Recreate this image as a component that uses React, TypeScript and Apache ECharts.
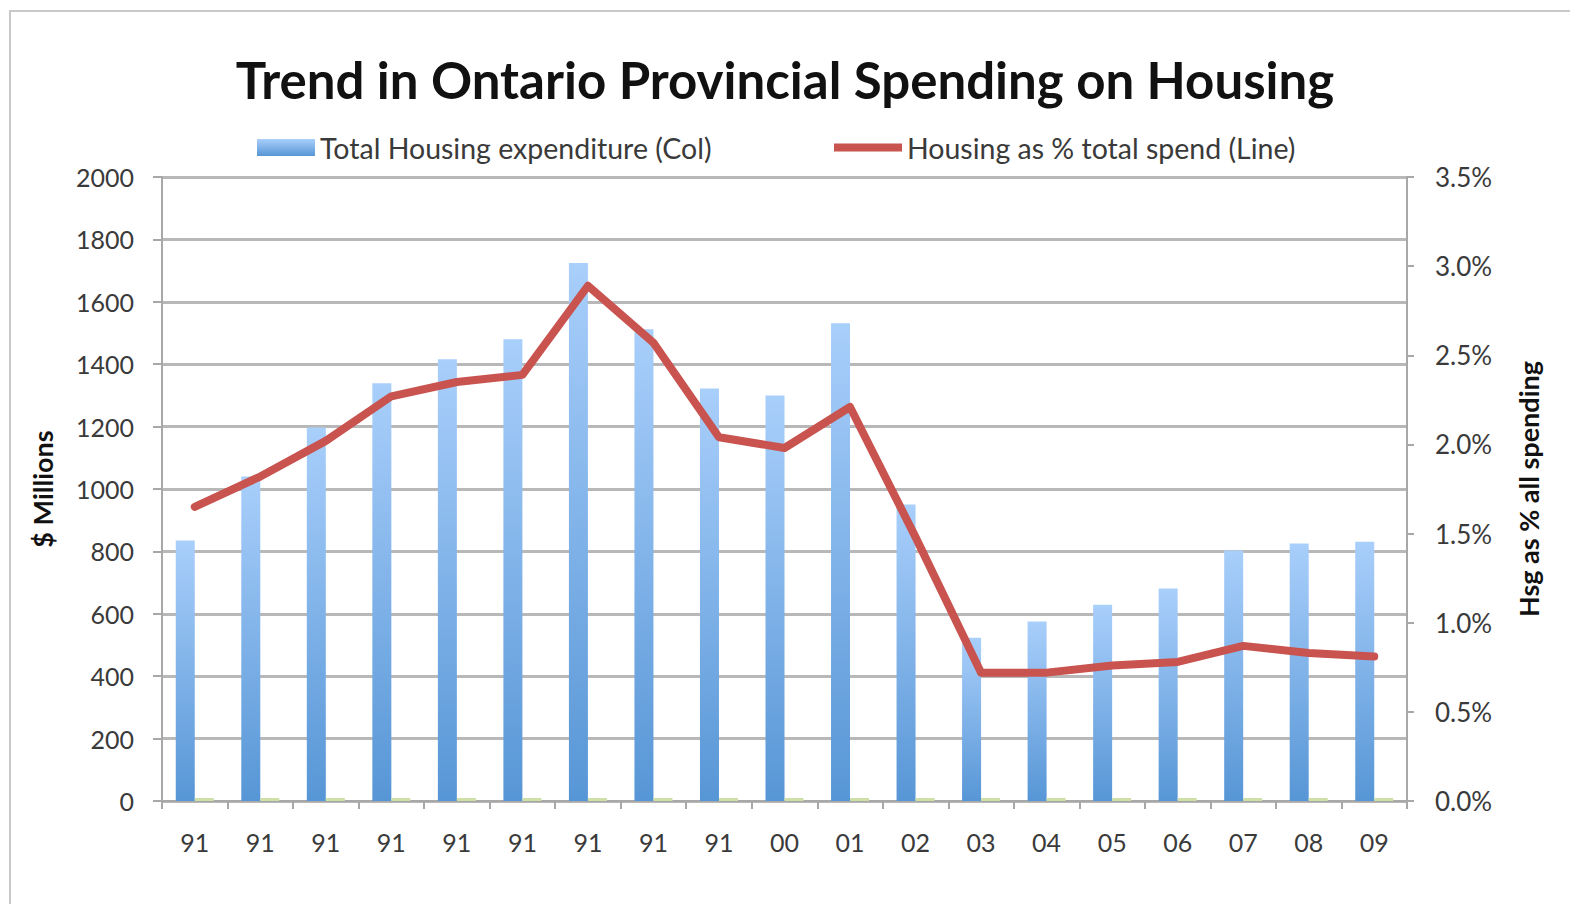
import React, { useEffect, useRef } from "react";
import * as echarts from "echarts";

const categories = ["91", "91", "91", "91", "91", "91", "91", "91", "91", "00", "01", "02", "03", "04", "05", "06", "07", "08", "09"];
const housingExpenditure = [835, 1040, 1197, 1339, 1416, 1480, 1724, 1512, 1322, 1300, 1531, 950, 523, 575, 629, 681, 803, 825, 831];
const housingPct = [1.65, 1.82, 2.02, 2.27, 2.35, 2.39, 2.89, 2.57, 2.04, 1.98, 2.21, 1.48, 0.72, 0.72, 0.76, 0.78, 0.87, 0.83, 0.81];
const leftTicks = { min: 0, max: 2000, interval: 200 };
const rightTicks = { min: 0, max: 3.5, interval: 0.5 };

const FONT = "Lato, 'Open Sans', sans-serif";
const TEXT = "#3a3a3a";
const GRID = "#b8b8b8";

export default function App() {
  const ref = useRef<HTMLDivElement>(null);
  useEffect(() => {
    if (!ref.current) return;
    const chart = echarts.init(ref.current, undefined, { renderer: "svg" });
    const blue = new echarts.graphic.LinearGradient(0, 0, 0, 1, [
      { offset: 0, color: "#a9cffb" },
      { offset: 1, color: "#5796d6" },
    ]);
    chart.setOption({
      animation: false,
      backgroundColor: "#ffffff",
      title: {
        text: "Trend in Ontario Provincial Spending on Housing",
        left: "center",
        top: 49,
        textStyle: { fontFamily: FONT, fontWeight: "bold", fontSize: 51, color: "#111" },
      },
      graphic: [
        {
          type: "rect",
          shape: { x: 10, y: 11, width: 1580, height: 910 },
          style: { fill: "none", stroke: "#c9c9c9", lineWidth: 2 },
          silent: true,
        },
      ],
      legend: [
        {
          data: ["Total Housing expenditure (Col)"],
          left: 257,
          top: 133,
          padding: 0,
          itemWidth: 58,
          itemHeight: 17,
          icon: "rect",
          textStyle: { fontFamily: FONT, fontSize: 28.5, color: TEXT },
        },
        {
          data: ["Housing as % total spend (Line)"],
          left: 834,
          top: 133,
          padding: 0,
          itemWidth: 68,
          itemHeight: 8,
          icon: "rect",
          textStyle: { fontFamily: FONT, fontSize: 28.5, color: TEXT },
        },
      ],
      grid: { left: 162, right: 163, top: 177, bottom: 103 },
      xAxis: {
        type: "category",
        data: categories,
        axisLine: { lineStyle: { color: "#a8a8a8", width: 2 } },
        axisTick: { show: true, length: 8, lineStyle: { color: "#a8a8a8", width: 2 } },
        axisLabel: { fontFamily: FONT, fontSize: 25, color: TEXT, margin: 28, interval: 0 },
      },
      yAxis: [
        {
          type: "value",
          min: leftTicks.min,
          max: leftTicks.max,
          interval: leftTicks.interval,
          name: "$ Millions",
          nameLocation: "middle",
          nameRotate: 90,
          nameGap: 106,
          nameTextStyle: { fontFamily: FONT, fontSize: 27, fontWeight: "bold", color: "#111" },
          axisLine: { show: true, lineStyle: { color: "#a8a8a8", width: 2 } },
          axisTick: { show: true, length: 9, lineStyle: { color: "#a8a8a8", width: 2 } },
          axisLabel: {
            fontFamily: FONT,
            fontSize: 25,
            color: TEXT,
            margin: 28,
            formatter: (v: number) => String(v),
          },
          splitLine: { show: true, lineStyle: { color: GRID, width: 3 } },
        },
        {
          type: "value",
          min: rightTicks.min,
          max: rightTicks.max,
          interval: rightTicks.interval,
          position: "right",
          name: "Hsg as % all spending",
          nameLocation: "middle",
          nameRotate: 90,
          nameGap: 108,
          nameTextStyle: { fontFamily: FONT, fontSize: 27, fontWeight: "bold", color: "#111" },
          axisLine: { show: true, lineStyle: { color: "#a8a8a8", width: 2 } },
          axisTick: { show: true, length: 7, lineStyle: { color: "#a8a8a8", width: 2 } },
          axisLabel: {
            fontFamily: FONT,
            fontSize: 26,
            color: TEXT,
            margin: 28,
            formatter: (v: number) => v.toFixed(1) + "%",
          },
          splitLine: { show: false },
        },
      ],
      series: [
        {
          name: "Total Housing expenditure (Col)",
          type: "bar",
          data: housingExpenditure,
          barWidth: 19,
          barGap: "0%",
          itemStyle: { color: blue },
          z: 2,
        },
        {
          name: "pct-on-primary",
          type: "bar",
          data: housingPct,
          barWidth: 19,
          barGap: "0%",
          barMinHeight: 3,
          itemStyle: { color: "#cfe0a6" },
          z: 2,
        },
        {
          name: "Housing as % total spend (Line)",
          type: "line",
          yAxisIndex: 1,
          data: housingPct,
          symbol: "none",
          lineStyle: { color: "#c8534f", width: 8, join: "round", cap: "round" },
          itemStyle: { color: "#c8534f" },
          z: 5,
        },
      ],
    });
    return () => chart.dispose();
  }, []);
  return (
    <div
      ref={ref}
      style={{ position: "fixed", left: 0, top: 0, width: 1570, height: 904 }}
    />
  );
}
